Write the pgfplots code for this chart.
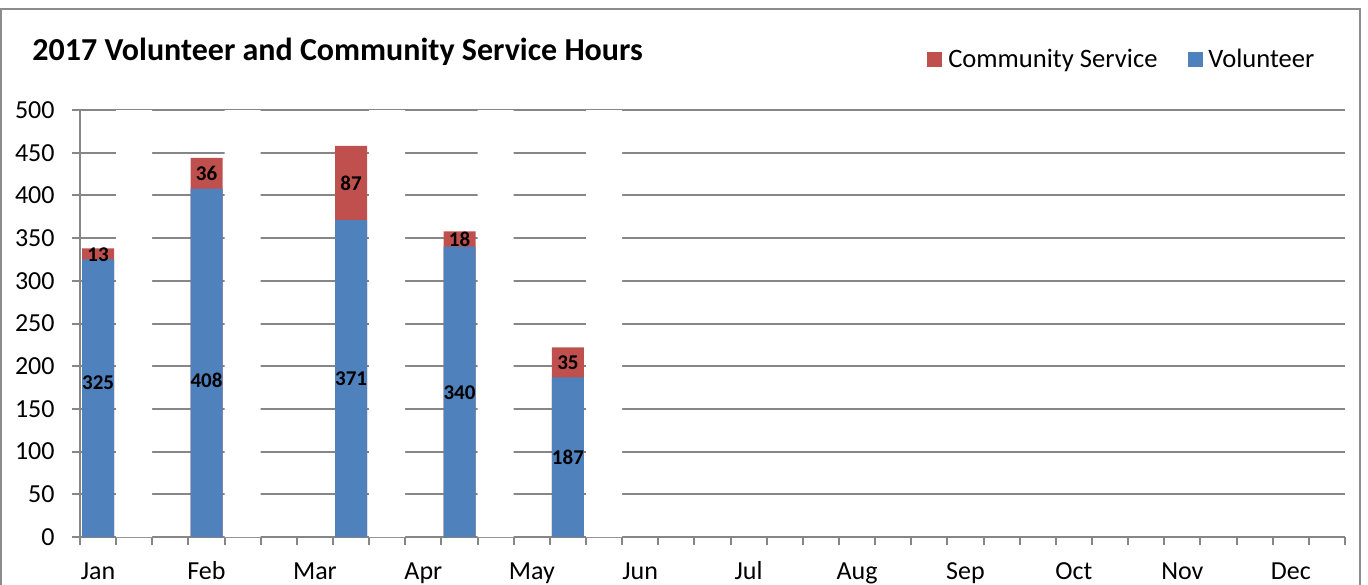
\documentclass[border=0pt]{standalone}
\usepackage{pgfplots}
\pgfplotsset{compat=1.18}
\usepackage{pgfplotstable}
\usepackage{fontspec}
\setmainfont{Carlito}
\definecolor{volblue}{HTML}{4F81BD}
\definecolor{csred}{HTML}{C0504D}
\definecolor{gridgray}{HTML}{868686}
\definecolor{bordergray}{HTML}{8C8C8C}

\pgfplotstableread{
pos vol cs
0 325 13
3 408 36
7 371 87
10 340 18
13 187 35
}\tblbars
\pgfplotstableread{
pos h
1 500
4 500
8 500
11 500
14 500
}\tblblank
\pgfplotstableread{
pos ypos lab
0 181 325
3 184 408
7 185 371
10 169 340
13 93 187
0 331 13
3 426 36
7 414 87
10 349 18
13 204 35
}\tbllabels

\begin{document}
\begin{tikzpicture}
\useasboundingbox (0pt,0pt) rectangle (684pt,292pt);
\draw[bordergray, line width=1pt] (0.5pt,-5pt) -- (0.5pt,287.5pt) -- (680pt,287.5pt) -- (680pt,-5pt);
\node[anchor=west, inner sep=0pt, font=\bfseries\fontsize{16}{18}\selectfont] at (16pt,266pt) {2017 Volunteer and Community Service Hours};
\begin{axis}[
 at={(40pt,23.5pt)}, anchor=south west,
 scale only axis, width=632.5pt, height=213.5pt,
 xmin=-0.5, xmax=34.5, ymin=0, ymax=500,
 axis lines=left, axis line style={-, draw=gridgray, line width=1pt},
 ytick={0,50,...,500},
 ymajorgrids, grid style={gridgray, line width=1pt},
 tick align=outside, major tick length=4pt,
 tick style={gridgray, line width=1pt},
 xtick={-0.5,0.5,...,35},
 xticklabels={},
 extra x ticks={0,3,...,33},
 extra x tick labels={Jan,Feb,Mar,Apr,May,Jun,Jul,Aug,Sep,Oct,Nov,Dec},
 extra x tick style={major tick length=0pt, grid=none},
 tick label style={font=\fontsize{13}{15}\selectfont, black},
 /pgf/number format/assume math mode=true,
 yticklabel style={anchor=east, inner sep=0pt, xshift=-8.5pt},
 xticklabel style={anchor=base, inner sep=0pt, yshift=-21pt},
 legend style={at={(0.6696,1.118)}, anchor=west, draw=none, fill=none,
   inner sep=0pt, nodes={inner sep=0pt}, font=\fontsize{13.3}{15}\selectfont, legend columns=2,
   /tikz/every odd column/.append style={column sep=3pt},
   /tikz/every even column/.append style={column sep=15pt}},
 legend image code/.code={\fill[#1] (0pt,-3.5pt) rectangle (7pt,3.5pt);},
 clip=false,
]
\addplot[forget plot, ybar, bar width=18pt, bar shift=0pt, fill=white, draw=none] table[x=pos,y=h]{\tblblank};
\addplot[forget plot, ybar, bar width=16pt, bar shift=0pt, fill=csred, draw=none] table[x=pos, y expr=\thisrow{vol}+\thisrow{cs}]{\tblbars};
\addplot[forget plot, ybar, bar width=16pt, bar shift=0pt, fill=volblue, draw=none] table[x=pos,y=vol]{\tblbars};
\addplot[forget plot, draw=none, mark=none, nodes near coords, point meta=explicit symbolic,
  nodes near coords align={center},
  every node near coord/.style={font=\bfseries\fontsize{10.5}{12}\selectfont, black, inner sep=0pt, anchor=center}]
  table[x=pos,y=ypos,meta=lab]{\tbllabels};
\addlegendimage{csred}
\addlegendentry{Community Service}
\addlegendimage{volblue}
\addlegendentry{Volunteer}
\end{axis}
\end{tikzpicture}
\end{document}
